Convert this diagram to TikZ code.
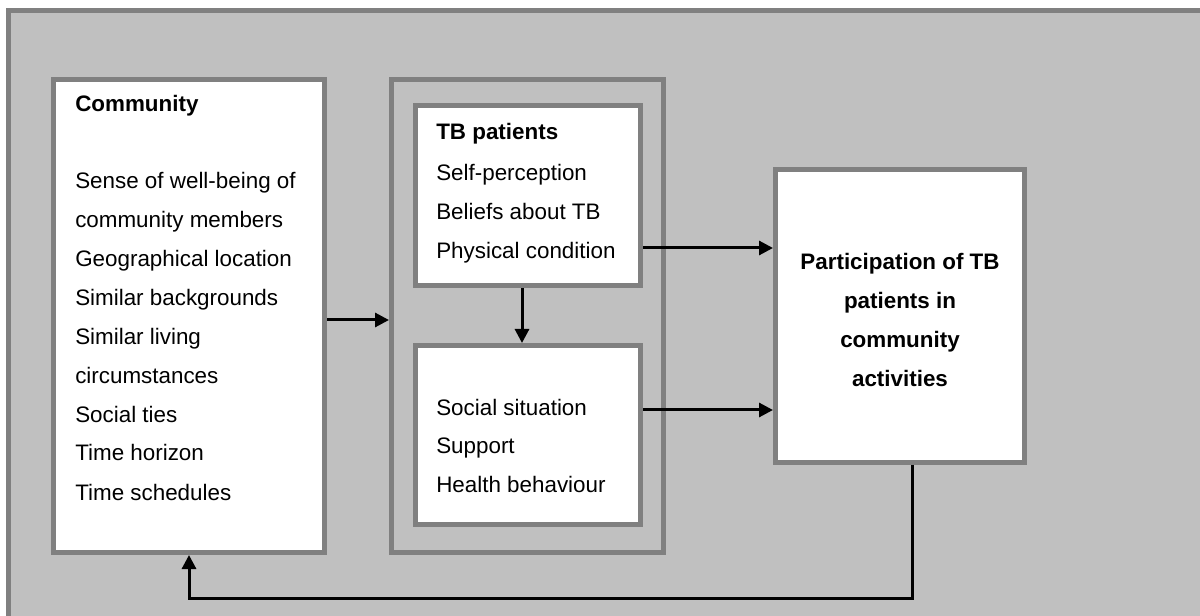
\documentclass[tikz,border=0pt]{standalone}
\usepackage{fontspec}
\setmainfont{Liberation Sans}
\usetikzlibrary{arrows.meta,positioning}
\definecolor{panelgray}{HTML}{C0C0C0}
\definecolor{edgegray}{HTML}{808080}
\newcommand{\txtsize}{\fontsize{16.8}{29.25}\selectfont}

\begin{document}
\begin{tikzpicture}[x=0.75pt, y=-0.75pt]
\tikzstyle{block} = [rectangle, draw=edgegray, line width=3.75pt, fill=white, inner sep=0pt]
\tikzstyle{item} = [inner sep=0pt, align=left, font=\txtsize, anchor=base west]
\tikzstyle{head} = [inner sep=0pt, font=\txtsize\bfseries, anchor=base west]
\tikzstyle{link} = [-{Triangle[length=10.5pt,width=10.5pt]}, line width=2.25pt]

\useasboundingbox (0,0) rectangle (1200,616);
\draw[draw=edgegray, fill=panelgray, line width=3.75pt] (8.5,11) rectangle (1260,680);

\node (comm) [block, minimum width=203.25pt, minimum height=354.75pt] at (189,316) {};
\node (grp) [block, fill=panelgray, minimum width=204pt, minimum height=354.75pt] at (527.5,316) {};
\node (tbp) [block, minimum width=168.75pt, minimum height=135pt] at (528,195.5) {};
\node (soc) [block, minimum width=168.75pt, minimum height=134.25pt] at (528,435) {};
\node (part) [block, minimum width=186.75pt, minimum height=219.75pt] at (900,316) {};

% multi-line nodes: base anchor sits on the last line
\node (commhead) [head] at (75,112) {Community};
\node (commlist) [item] at (75,500) {Sense of well-being of\\community members\\Geographical location\\Similar backgrounds\\Similar living\\circumstances\\Social ties\\Time horizon\\Time schedules};
\node (tbphead) [head] at (436,140) {TB patients};
\node (tbplist) [item] at (436,259) {Self-perception\\Beliefs about TB\\Physical condition};
\node (soclist) [item] at (436,493) {Social situation\\Support\\Health behaviour};
\node (parttext) [inner sep=0pt, align=center, font=\txtsize\bfseries, anchor=base] at (900,387) {Participation of TB\\patients in\\community\\activities};

\coordinate (ya) at (0,320);
\coordinate (yb) at (0,248);
\coordinate (yc) at (0,410);
\coordinate (xd) at (522,0);
\coordinate (xf) at (912,0);
\coordinate (yf) at (0,598);

\draw[link] (comm.east |- ya) -- (grp.west |- ya);
\draw[link] (tbp.east |- yb) -- (part.west |- yb);
\draw[link] (soc.east |- yc) -- (part.west |- yc);
\draw[link] (tbp.south -| xd) -- (soc.north -| xd);
\draw[link] (part.south -| xf) -- (xf |- yf) -| (comm.south);
\end{tikzpicture}
\end{document}
